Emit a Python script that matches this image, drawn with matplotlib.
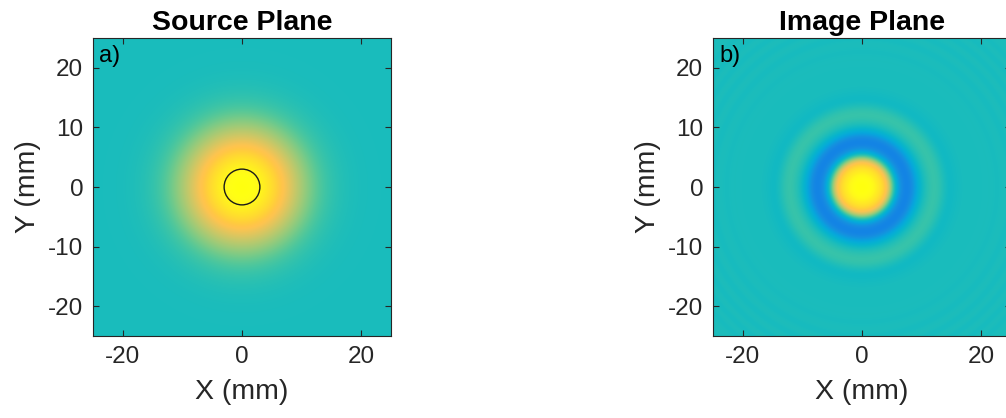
import numpy as np
import matplotlib
matplotlib.use("Agg")
import matplotlib.pyplot as plt
from matplotlib.colors import LinearSegmentedColormap
from matplotlib.patches import Circle

# ---- data (radial profiles, peak-normalised) ----
src_radius_mm = [0, 1, 2, 3, 4, 5, 6, 7, 8, 9, 10, 11, 12, 13, 14, 15, 16, 17, 18, 19,
                 20, 22, 25, 40]
src_profile = [1.0, 0.99, 0.97, 0.935, 0.885, 0.82, 0.74, 0.65, 0.555, 0.46, 0.37, 0.29,
               0.22, 0.16, 0.115, 0.08, 0.055, 0.035, 0.022, 0.013, 0.007, 0.002, 0.0, 0.0]

img_radius_mm = [0, 1, 2, 3, 3.5, 4, 4.5, 5, 5.5, 6, 6.5, 7, 7.5, 8, 8.5, 9, 9.5, 10,
                 10.5, 11, 11.5, 12, 12.5, 13, 13.5, 14, 14.5, 15, 16, 17, 18, 20,
                 21.5, 22.8, 24, 25.2, 26.3, 27.3, 28.3, 29.2, 30.1, 31, 31.8, 32.6, 33.4, 40]
img_profile = [1.0, 0.985, 0.94, 0.85, 0.78, 0.68, 0.50, 0.24, 0.0, -0.2, -0.33, -0.40,
               -0.42, -0.40, -0.33, -0.23, -0.13, -0.05, 0.01, 0.05, 0.08, 0.095, 0.09,
               0.07, 0.035, 0.0, -0.03, -0.035, -0.015, 0.0, 0.0, 0.0,
               0.005, -0.006, 0.01, -0.012, 0.014, -0.014, 0.015, -0.015, 0.015, -0.015,
               0.014, -0.012, 0.01, 0.0]

circle_radius_mm = 3.0
axis_limit_mm = 25
x_ticks = [-20, 0, 20]
y_ticks = [-20, -10, 0, 10, 20]
titles = ["Source Plane", "Image Plane"]
panel_tags = ["a)", "b)"]
color_min, color_max = -0.82, 1.0

# ---- parula colormap (style) ----
parula_data = [
    [0.2081, 0.1663, 0.5292], [0.2116, 0.1898, 0.5777], [0.2123, 0.2138, 0.6270],
    [0.2081, 0.2386, 0.6771], [0.1959, 0.2645, 0.7279], [0.1707, 0.2919, 0.7792],
    [0.1253, 0.3242, 0.8303], [0.0591, 0.3598, 0.8683], [0.0117, 0.3875, 0.8820],
    [0.0060, 0.4086, 0.8828], [0.0165, 0.4266, 0.8786], [0.0329, 0.4430, 0.8720],
    [0.0498, 0.4586, 0.8641], [0.0629, 0.4737, 0.8554], [0.0723, 0.4887, 0.8467],
    [0.0779, 0.5040, 0.8384], [0.0793, 0.5200, 0.8312], [0.0749, 0.5375, 0.8263],
    [0.0641, 0.5570, 0.8240], [0.0488, 0.5772, 0.8228], [0.0343, 0.5966, 0.8199],
    [0.0265, 0.6137, 0.8135], [0.0239, 0.6287, 0.8038], [0.0231, 0.6418, 0.7913],
    [0.0228, 0.6535, 0.7768], [0.0267, 0.6642, 0.7607], [0.0384, 0.6743, 0.7436],
    [0.0590, 0.6838, 0.7254], [0.0843, 0.6928, 0.7062], [0.1133, 0.7015, 0.6859],
    [0.1453, 0.7098, 0.6646], [0.1801, 0.7177, 0.6424], [0.2178, 0.7250, 0.6193],
    [0.2586, 0.7317, 0.5954], [0.3022, 0.7376, 0.5712], [0.3482, 0.7424, 0.5473],
    [0.3953, 0.7459, 0.5244], [0.4420, 0.7481, 0.5033], [0.4871, 0.7491, 0.4840],
    [0.5300, 0.7491, 0.4661], [0.5709, 0.7485, 0.4494], [0.6099, 0.7473, 0.4337],
    [0.6473, 0.7456, 0.4188], [0.6834, 0.7435, 0.4044], [0.7184, 0.7411, 0.3905],
    [0.7525, 0.7384, 0.3768], [0.7858, 0.7356, 0.3633], [0.8185, 0.7327, 0.3498],
    [0.8507, 0.7299, 0.3360], [0.8824, 0.7274, 0.3217], [0.9139, 0.7258, 0.3063],
    [0.9450, 0.7261, 0.2886], [0.9739, 0.7314, 0.2666], [0.9938, 0.7455, 0.2403],
    [0.9990, 0.7653, 0.2164], [0.9955, 0.7861, 0.1967], [0.9880, 0.8066, 0.1794],
    [0.9789, 0.8271, 0.1633], [0.9697, 0.8481, 0.1475], [0.9626, 0.8705, 0.1309],
    [0.9589, 0.8949, 0.1132], [0.9598, 0.9218, 0.0948], [0.9661, 0.9514, 0.0755],
    [0.9763, 0.9831, 0.0538]]
parula_bright = np.clip(np.array(parula_data) * 1.06, 0, 1)
parula = LinearSegmentedColormap.from_list("parula", parula_bright, N=2048)

plt.rcParams['font.family'] = ['Liberation Sans', 'DejaVu Sans']
plt.rcParams['axes.unicode_minus'] = False
dark = (0.15, 0.15, 0.15)


def radial_field(radius, profile, rr, smooth_mm):
    """Render a read radial profile onto the 2-D grid with light smoothing of the
    piecewise-linear joins (display only)."""
    r_fine = np.linspace(0, 40, 4001)
    p_fine = np.interp(r_fine, radius, profile)
    step = r_fine[1] - r_fine[0]
    half = int(smooth_mm / step)
    if half > 0:
        k = np.exp(-0.5 * (np.arange(-half, half + 1) * step / (smooth_mm / 2)) ** 2)
        k /= k.sum()
        padded = np.concatenate([p_fine[half:0:-1], p_fine, p_fine[-2:-half - 2:-1]])
        p_fine = np.convolve(padded, k, mode='valid')
    return np.interp(rr, r_fine, p_fine)


fig = plt.figure(figsize=(10.06, 4.18), dpi=100)
ax_rects = [[93 / 1006, 82 / 418, 298 / 1006, 298 / 418],
            [713 / 1006, 82 / 418, 298 / 1006, 298 / 418]]

grid = np.linspace(-axis_limit_mm, axis_limit_mm, 700)
gx, gy = np.meshgrid(grid, grid)
rr = np.hypot(gx, gy)
fields = [radial_field(src_radius_mm, src_profile, rr, 1.5),
          radial_field(img_radius_mm, img_profile, rr, 0.4)]

for i in range(2):
    ax = fig.add_axes(ax_rects[i])
    ax.imshow(fields[i], cmap=parula, vmin=color_min, vmax=color_max, origin='lower',
              extent=[-axis_limit_mm, axis_limit_mm, -axis_limit_mm, axis_limit_mm],
              interpolation='bilinear', aspect='auto')
    ax.set_xlim(-axis_limit_mm, axis_limit_mm)
    ax.set_ylim(-axis_limit_mm, axis_limit_mm)
    ax.set_xticks(x_ticks)
    ax.set_yticks(y_ticks)
    ax.tick_params(direction='in', top=True, right=True, length=4, width=0.8,
                   labelsize=17.5, colors=dark, pad=7)
    for s in ax.spines.values():
        s.set_color(dark)
        s.set_linewidth(0.8)
    ax.set_title(titles[i], fontsize=20.5, fontweight='bold', pad=6, color='black')
    ax.set_xlabel("X (mm)", fontsize=20.5, color=dark, labelpad=8)
    ax.set_ylabel("Y (mm)", fontsize=20.5, color=dark, labelpad=5)
    ax.text(0.02, 0.975, panel_tags[i], transform=ax.transAxes, fontsize=17,
            va='top', ha='left', color='black')
    if i == 0:
        ax.add_patch(Circle((0, 0), circle_radius_mm, fill=False,
                            edgecolor=(0.1, 0.1, 0.1), linewidth=1.0))

fig.savefig("out.png", dpi=100)
